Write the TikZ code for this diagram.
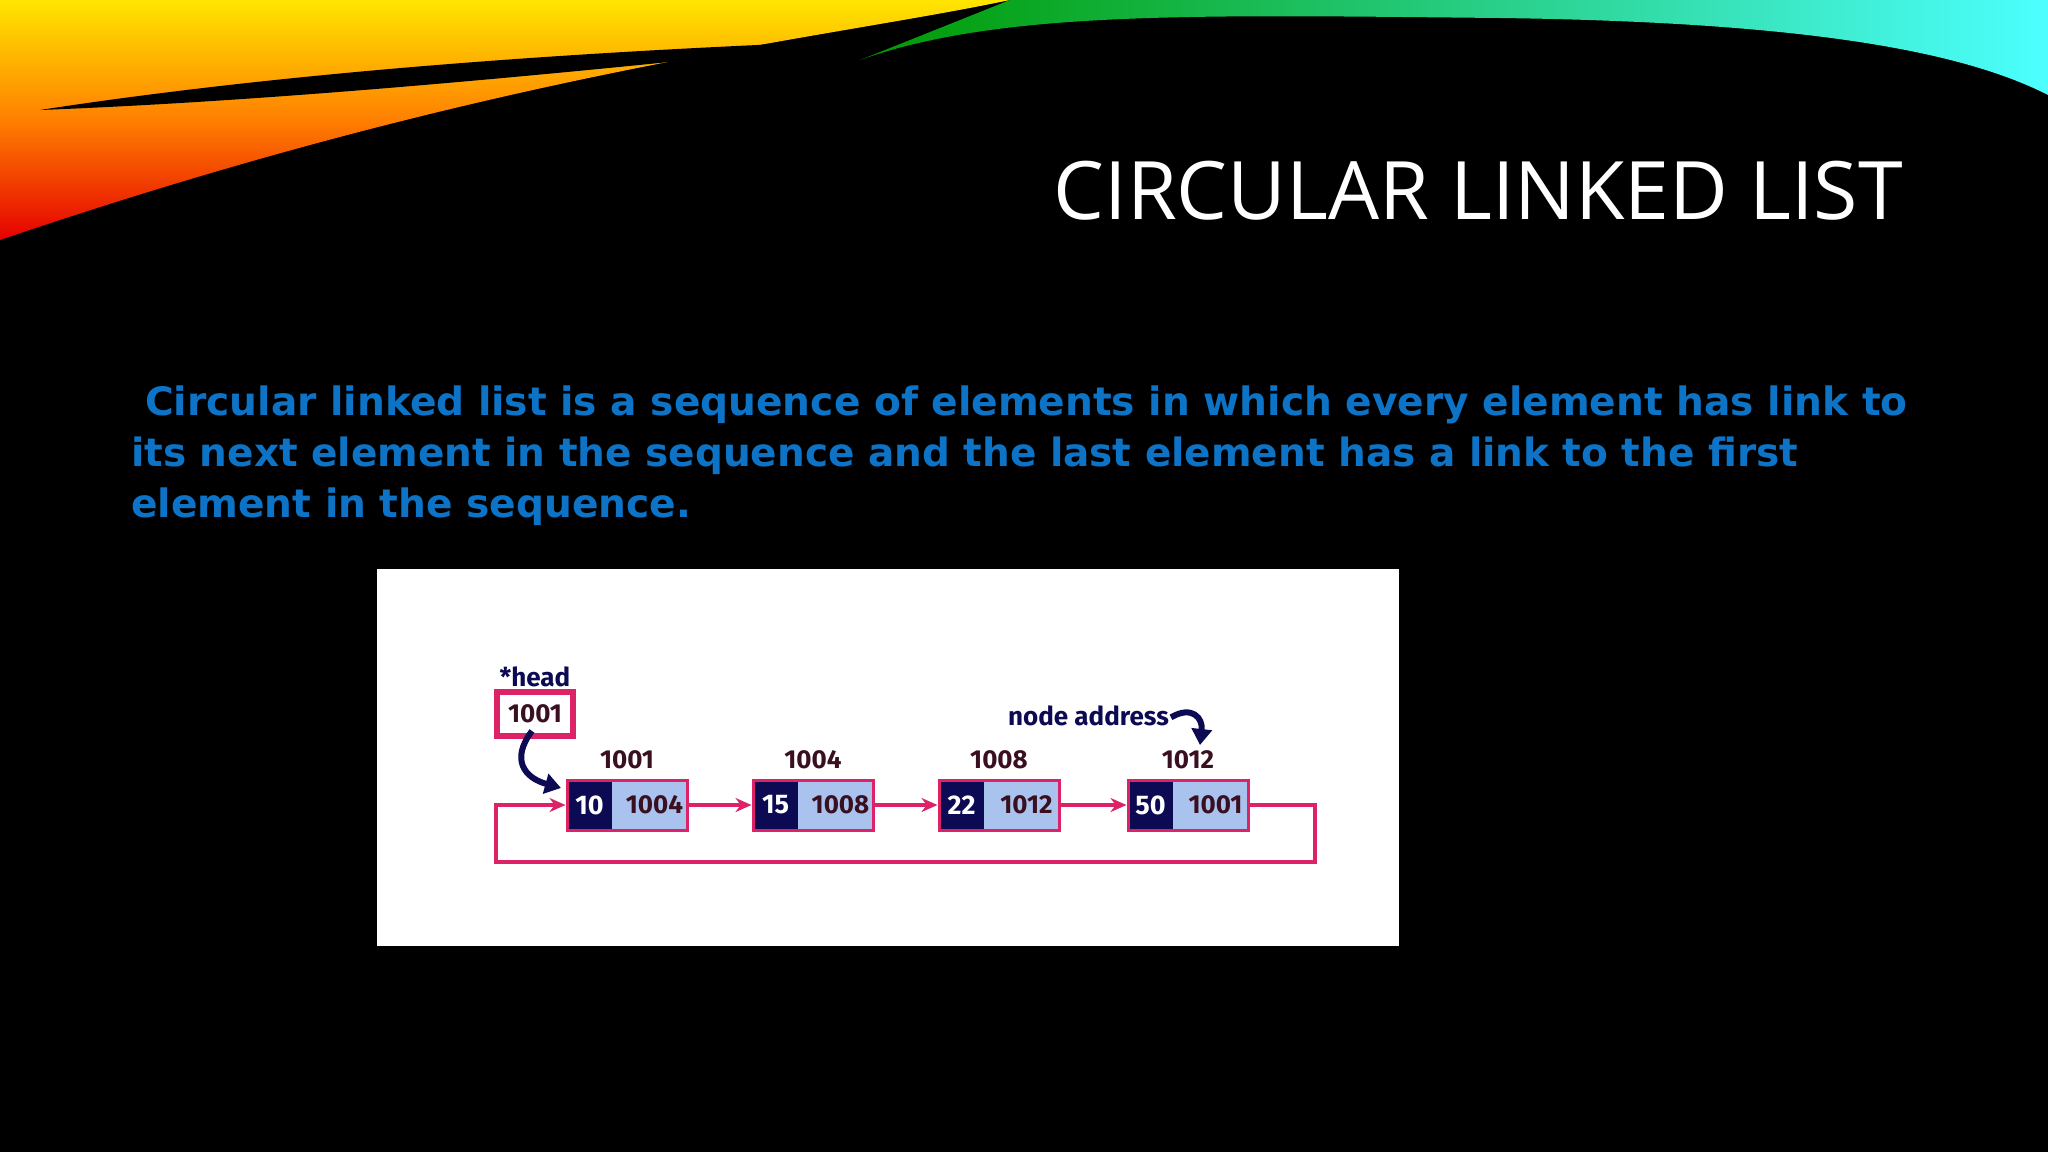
\documentclass[tikz,border=0pt]{standalone}
\usepackage{fontspec}
\usepackage{graphicx}
\setmainfont{DejaVu Sans}
\newfontfamily\titlefont{Open Sans}
\newfontfamily\bodyfont{DejaVu Sans}
\newfontfamily\diafont{Fira Sans}
\usetikzlibrary{arrows.meta}
\definecolor{pinkc}{HTML}{DC2367}
\definecolor{navyc}{HTML}{0C0A52}
\definecolor{lblue}{HTML}{A9C3EE}
\definecolor{maroon}{HTML}{3A1020}
\definecolor{bodyblue}{HTML}{0C73C6}
\tikzset{
  cellbox/.style={draw=pinkc,line width=6pt,minimum width=117pt,minimum height=47pt,inner sep=0pt},
  addr/.style={font=\diafont\bfseries\fontsize{26}{26}\selectfont,text=maroon,inner sep=0pt},
  link/.style={draw=pinkc,line width=3.5pt,-{Stealth[length=16pt,width=14pt]}},
  bigarrow/.style={draw=navyc,line width=6pt,-{Triangle[length=16pt,width=20pt]}},
}
\newcommand\lnode[5]{%
  \node[cellbox] (#1) at (#2,805) {};
  \fill[navyc] ([shift={(3pt,-3pt)}]#1.north west) rectangle ([shift={(46pt,3pt)}]#1.south west);
  \fill[lblue] ([shift={(46pt,-3pt)}]#1.north west) rectangle ([shift={(-3pt,3pt)}]#1.south east);
  \node[font=\diafont\bfseries\fontsize{27}{27}\selectfont,text=white] (#1v) at ([xshift=24pt]#1.west) {#3};
  \node[font=\diafont\bfseries\fontsize{26}{26}\selectfont,text=maroon] (#1a) at ([xshift=-34pt]#1.east) {#4};
  \node[addr,anchor=base] (#1l) at ([yshift=10pt]#1.north) {#5};
}
\begin{document}
\begin{tikzpicture}[x=1pt,y=-1pt]
\useasboundingbox (0,0) rectangle (2048,1152);
\fill[black] (0,0) rectangle (2048,1152);
% decorative swooshes
\shade[top color=yellow!80!orange, bottom color=red!90!black, middle color=orange]
  (0,0) -- (1010,0) .. controls (820,40) and (500,70) .. (0,240) -- cycle;
\fill[black] (40,110) .. controls (300,70) and (600,50) .. (880,40) .. controls (600,70) and (300,100) .. (40,110) -- cycle;
\shade[left color=green!60!black, right color=cyan!70!white]
  (860,60) .. controls (1000,10) and (1200,15) .. (1500,18) .. controls (1800,22) and (1960,50) .. (2048,95) -- (2048,0) -- (1010,0) -- cycle;
% title
\node[anchor=base east,text=white,inner sep=0pt] (title) at (1903,219)
  {\resizebox{849pt}{!}{\titlefont CIRCULAR LINKED LIST}};
% body text
\node[anchor=base west,text=bodyblue,inner sep=0pt] (l1) at (145,415)
  {\resizebox{1762pt}{!}{\bodyfont\bfseries Circular linked list is a sequence of elements in which every element has link to}};
\node[anchor=base west,text=bodyblue,inner sep=0pt] (l2) at (131,466)
  {\resizebox{1667pt}{!}{\bodyfont\bfseries its next element in the sequence and the last element has a link to the first}};
\node[anchor=base west,text=bodyblue,inner sep=0pt] (l3) at (131,517)
  {\resizebox{560pt}{!}{\bodyfont\bfseries element in the sequence.}};
% white panel
\fill[white] (377,569) rectangle (1399,946);
% head
\node[addr,text=navyc,anchor=base] (headl) at (535,686) {*head};
\node[draw=pinkc,line width=6pt,minimum width=76pt,minimum height=44pt,addr] (hb) at (535,714) {1001};
% list nodes
\lnode{n1}{627}{10}{1004}{1001}
\lnode{n2}{813}{15}{1008}{1004}
\lnode{n3}{999}{22}{1012}{1008}
\lnode{n4}{1188}{50}{1001}{1012}
\draw[link] (n1.east) -- (n2.west);
\draw[link] (n2.east) -- (n3.west);
\draw[link] (n3.east) -- (n4.west);
\coordinate (r1) at (1315,805);
\coordinate (r2) at (1315,862);
\coordinate (r3) at (496,862);
\coordinate (r4) at (496,805);
\draw[link] (n4.east) -- (r1) -- (r2) -- (r3) -- (r4) -- (n1.west);
% curved arrows
\draw[bigarrow] ([xshift=-3pt,yshift=8pt]hb.south) .. controls (510,760) and (525,778) .. (561,788);
\node[font=\diafont\fontsize{26}{26}\selectfont\bfseries,text=navyc,anchor=base east,inner sep=0pt] (na) at (1169,725) {node address};
\draw[bigarrow] ([xshift=2pt,yshift=-2pt]na.east) .. controls (1192,705) and (1203,718) .. (1200,745);
\end{tikzpicture}
\end{document}
